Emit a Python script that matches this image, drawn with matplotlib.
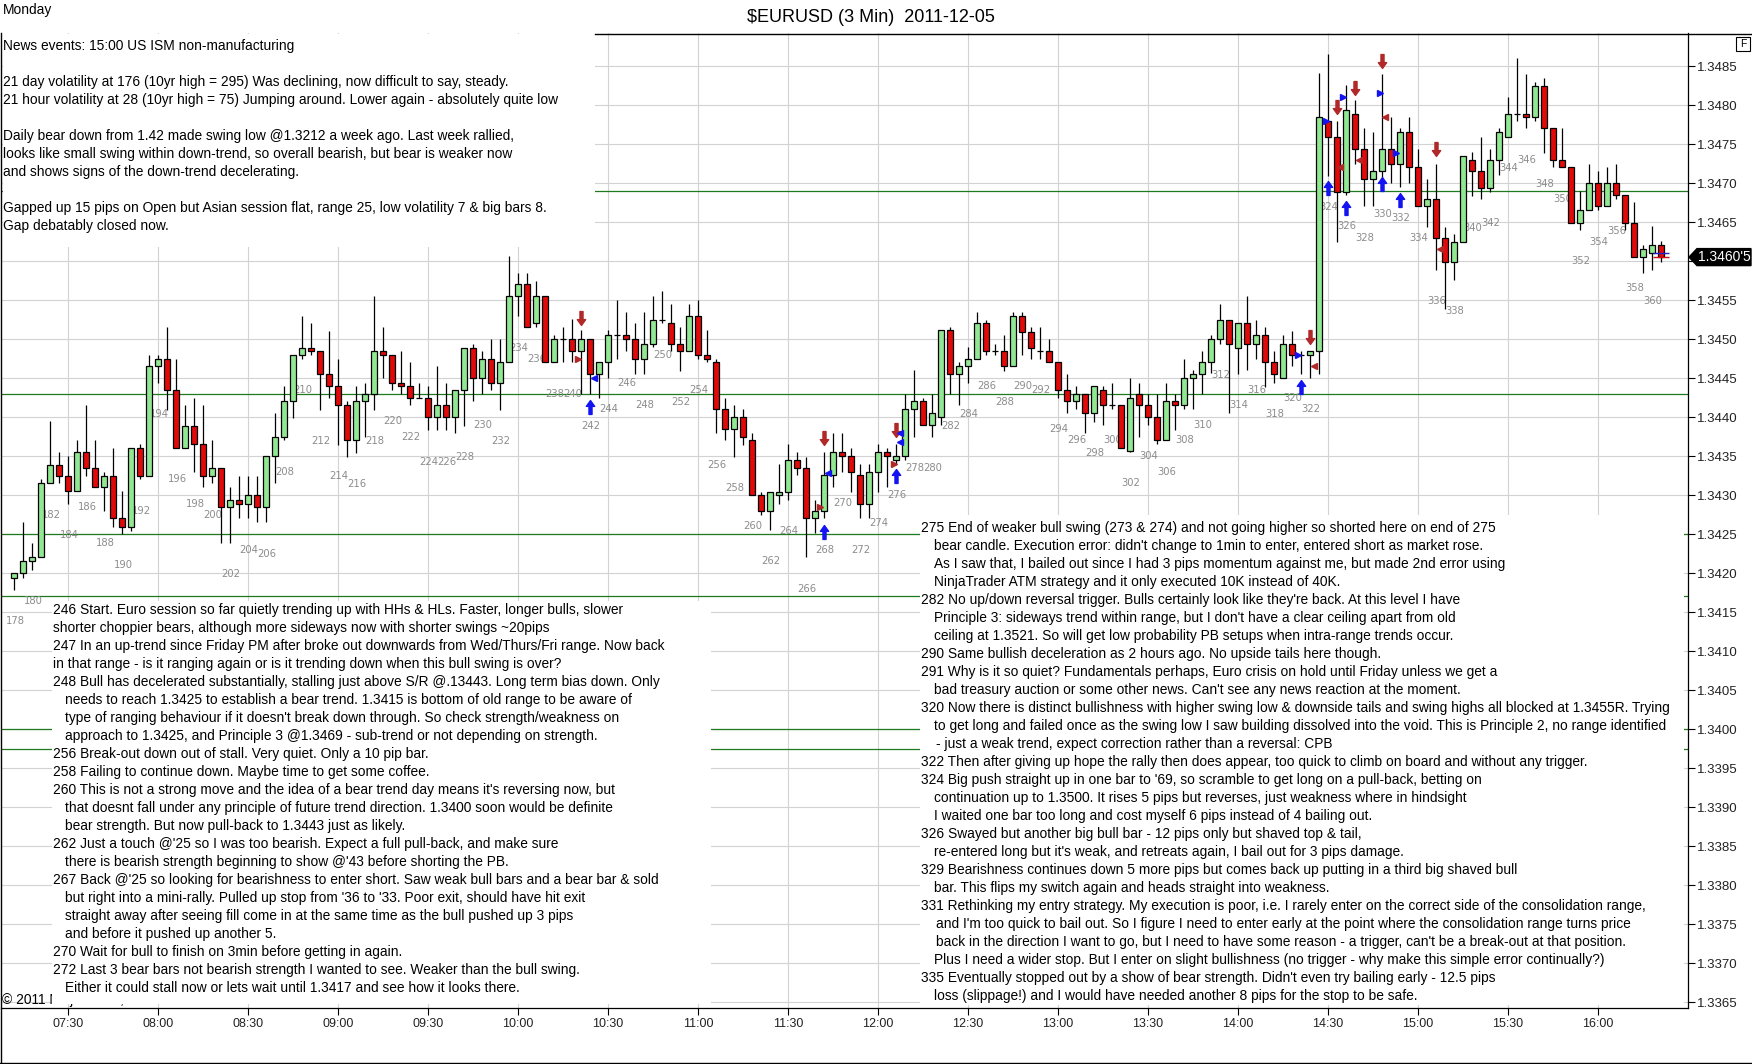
import matplotlib
matplotlib.use("Agg")
import matplotlib.pyplot as plt
import numpy as np
from matplotlib.path import Path
from matplotlib.patches import Rectangle, Polygon
from matplotlib.lines import Line2D

# ---------------- data ----------------
bar_numbers = list(range(178, 362))

opens = [
    1.34194, 1.34200, 1.34215, 1.34220, 1.34315, 1.34339, 1.34325, 1.34305, 1.34355, 1.34334,
    1.34310, 1.34325, 1.34270, 1.34259, 1.34360, 1.34325, 1.34465, 1.34475, 1.34435, 1.34360,
    1.34389, 1.34365, 1.34325, 1.34334, 1.34284, 1.34294, 1.34289, 1.34300, 1.34284, 1.34350,
    1.34375, 1.34420, 1.34479, 1.34489, 1.34484, 1.34455, 1.34440, 1.34415, 1.34370, 1.34420,
    1.34430, 1.34484, 1.34479, 1.34444, 1.34440, 1.34425, 1.34425, 1.34400, 1.34415, 1.34400,
    1.34435, 1.34489, 1.34450, 1.34475, 1.34444, 1.34470, 1.34555, 1.34570, 1.34520, 1.34555,
    1.34470, 1.34500, 1.34500, 1.34484, 1.34500, 1.34455, 1.34470, 1.34505, 1.34505, 1.34500,
    1.34475, 1.34494, 1.34525, 1.34520, 1.34494, 1.34484, 1.34529, 1.34480, 1.34470, 1.34410,
    1.34384, 1.34400, 1.34370, 1.34300, 1.34280, 1.34300, 1.34304, 1.34345, 1.34334, 1.34270,
    1.34280, 1.34326, 1.34355, 1.34350, 1.34326, 1.34289, 1.34330, 1.34355, 1.34345, 1.34350,
    1.34410, 1.34420, 1.34390, 1.34400, 1.34511, 1.34455, 1.34465, 1.34475, 1.34520, 1.34484,
    1.34484, 1.34465, 1.34529, 1.34509, 1.34484, 1.34484, 1.34470, 1.34435, 1.34420, 1.34429,
    1.34405, 1.34435, 1.34415, 1.34415, 1.34356, 1.34430, 1.34415, 1.34400, 1.34370, 1.34420,
    1.34415, 1.34450, 1.34455, 1.34470, 1.34500, 1.34525, 1.34489, 1.34520, 1.34494, 1.34505,
    1.34470, 1.34450, 1.34494, 1.34480, 1.34480, 1.34484, 1.34779, 1.34759, 1.34689, 1.34789,
    1.34744, 1.34705, 1.34715, 1.34744, 1.34725, 1.34765, 1.34720, 1.34670, 1.34679, 1.34629,
    1.34599, 1.34625, 1.34729, 1.34715, 1.34694, 1.34729, 1.34759, 1.34789, 1.34789, 1.34784,
    1.34825, 1.34770, 1.34730, 1.34720, 1.34649, 1.34665, 1.34700, 1.34670, 1.34700, 1.34685,
    1.34649, 1.34605, 1.34610, 1.34620,
]
highs = [
    1.34200, 1.34265, 1.34239, 1.34320, 1.34395, 1.34355, 1.34350, 1.34370, 1.34415, 1.34370,
    1.34330, 1.34360, 1.34305, 1.34360, 1.34365, 1.34479, 1.34479, 1.34515, 1.34475, 1.34415,
    1.34425, 1.34415, 1.34370, 1.34334, 1.34310, 1.34325, 1.34325, 1.34325, 1.34350, 1.34405,
    1.34440, 1.34479, 1.34530, 1.34521, 1.34484, 1.34510, 1.34475, 1.34420, 1.34440, 1.34444,
    1.34555, 1.34515, 1.34479, 1.34484, 1.34470, 1.34444, 1.34440, 1.34465, 1.34444, 1.34435,
    1.34489, 1.34494, 1.34484, 1.34500, 1.34500, 1.34606, 1.34584, 1.34584, 1.34575, 1.34555,
    1.34505, 1.34515, 1.34526, 1.34511, 1.34500, 1.34470, 1.34511, 1.34550, 1.34535, 1.34520,
    1.34535, 1.34555, 1.34561, 1.34545, 1.34515, 1.34545, 1.34550, 1.34511, 1.34475, 1.34425,
    1.34415, 1.34410, 1.34379, 1.34304, 1.34304, 1.34340, 1.34365, 1.34355, 1.34349, 1.34294,
    1.34355, 1.34379, 1.34379, 1.34360, 1.34340, 1.34340, 1.34365, 1.34360, 1.34365, 1.34429,
    1.34460, 1.34425, 1.34429, 1.34511, 1.34515, 1.34470, 1.34490, 1.34535, 1.34525, 1.34494,
    1.34505, 1.34535, 1.34535, 1.34515, 1.34515, 1.34500, 1.34470, 1.34455, 1.34440, 1.34429,
    1.34440, 1.34440, 1.34444, 1.34415, 1.34450, 1.34444, 1.34430, 1.34430, 1.34444, 1.34430,
    1.34475, 1.34460, 1.34485, 1.34505, 1.34545, 1.34525, 1.34520, 1.34555, 1.34525, 1.34516,
    1.34485, 1.34505, 1.34510, 1.34485, 1.34485, 1.34841, 1.34866, 1.34780, 1.34826, 1.34806,
    1.34770, 1.34766, 1.34840, 1.34785, 1.34770, 1.34785, 1.34744, 1.34705, 1.34725, 1.34644,
    1.34635, 1.34735, 1.34740, 1.34759, 1.34744, 1.34770, 1.34810, 1.34860, 1.34840, 1.34830,
    1.34834, 1.34770, 1.34770, 1.34720, 1.34690, 1.34725, 1.34716, 1.34721, 1.34725, 1.34685,
    1.34676, 1.34620, 1.34645, 1.34626,
]
lows = [
    1.34178, 1.34194, 1.34204, 1.34220, 1.34315, 1.34315, 1.34289, 1.34305, 1.34325, 1.34310,
    1.34279, 1.34259, 1.34250, 1.34254, 1.34320, 1.34325, 1.34444, 1.34409, 1.34360, 1.34360,
    1.34329, 1.34310, 1.34315, 1.34239, 1.34239, 1.34270, 1.34270, 1.34265, 1.34265, 1.34315,
    1.34370, 1.34399, 1.34475, 1.34479, 1.34409, 1.34425, 1.34364, 1.34349, 1.34354, 1.34375,
    1.34409, 1.34450, 1.34435, 1.34430, 1.34415, 1.34425, 1.34383, 1.34383, 1.34383, 1.34379,
    1.34389, 1.34420, 1.34430, 1.34435, 1.34409, 1.34470, 1.34529, 1.34515, 1.34515, 1.34470,
    1.34470, 1.34470, 1.34470, 1.34429, 1.34429, 1.34425, 1.34450, 1.34475, 1.34484, 1.34455,
    1.34455, 1.34490, 1.34520, 1.34484, 1.34459, 1.34484, 1.34475, 1.34470, 1.34379, 1.34370,
    1.34349, 1.34364, 1.34300, 1.34274, 1.34255, 1.34289, 1.34294, 1.34326, 1.34220, 1.34251,
    1.34270, 1.34310, 1.34330, 1.34304, 1.34270, 1.34270, 1.34304, 1.34310, 1.34340, 1.34345,
    1.34375, 1.34390, 1.34375, 1.34390, 1.34429, 1.34415, 1.34444, 1.34475, 1.34480, 1.34480,
    1.34459, 1.34465, 1.34480, 1.34475, 1.34475, 1.34470, 1.34425, 1.34405, 1.34410, 1.34379,
    1.34394, 1.34390, 1.34410, 1.34360, 1.34355, 1.34375, 1.34390, 1.34365, 1.34370, 1.34383,
    1.34410, 1.34410, 1.34430, 1.34456, 1.34494, 1.34405, 1.34455, 1.34460, 1.34475, 1.34439,
    1.34444, 1.34450, 1.34465, 1.34455, 1.34450, 1.34455, 1.34709, 1.34625, 1.34685, 1.34725,
    1.34670, 1.34670, 1.34700, 1.34700, 1.34695, 1.34700, 1.34670, 1.34644, 1.34589, 1.34539,
    1.34576, 1.34625, 1.34683, 1.34679, 1.34689, 1.34710, 1.34759, 1.34779, 1.34770, 1.34779,
    1.34739, 1.34720, 1.34720, 1.34649, 1.34640, 1.34665, 1.34665, 1.34670, 1.34679, 1.34640,
    1.34605, 1.34584, 1.34589, 1.34599,
]
closes = [
    1.34200, 1.34215, 1.34220, 1.34315, 1.34339, 1.34325, 1.34305, 1.34355, 1.34334, 1.34310,
    1.34325, 1.34270, 1.34259, 1.34360, 1.34325, 1.34465, 1.34475, 1.34435, 1.34360, 1.34389,
    1.34365, 1.34325, 1.34334, 1.34284, 1.34294, 1.34289, 1.34300, 1.34284, 1.34350, 1.34375,
    1.34420, 1.34479, 1.34489, 1.34484, 1.34455, 1.34440, 1.34415, 1.34370, 1.34420, 1.34430,
    1.34484, 1.34479, 1.34444, 1.34440, 1.34425, 1.34425, 1.34400, 1.34415, 1.34400, 1.34435,
    1.34489, 1.34450, 1.34475, 1.34444, 1.34470, 1.34555, 1.34570, 1.34515, 1.34555, 1.34470,
    1.34500, 1.34500, 1.34484, 1.34500, 1.34455, 1.34470, 1.34505, 1.34505, 1.34500, 1.34475,
    1.34494, 1.34525, 1.34525, 1.34494, 1.34484, 1.34529, 1.34480, 1.34475, 1.34410, 1.34384,
    1.34400, 1.34375, 1.34300, 1.34280, 1.34304, 1.34304, 1.34345, 1.34334, 1.34270, 1.34280,
    1.34326, 1.34355, 1.34350, 1.34330, 1.34289, 1.34330, 1.34355, 1.34350, 1.34350, 1.34410,
    1.34420, 1.34390, 1.34405, 1.34511, 1.34455, 1.34465, 1.34475, 1.34520, 1.34484, 1.34484,
    1.34465, 1.34529, 1.34509, 1.34489, 1.34484, 1.34470, 1.34435, 1.34420, 1.34429, 1.34405,
    1.34440, 1.34415, 1.34415, 1.34360, 1.34425, 1.34415, 1.34400, 1.34370, 1.34420, 1.34415,
    1.34450, 1.34455, 1.34470, 1.34500, 1.34525, 1.34494, 1.34520, 1.34494, 1.34505, 1.34470,
    1.34455, 1.34494, 1.34480, 1.34480, 1.34484, 1.34784, 1.34759, 1.34689, 1.34794, 1.34744,
    1.34705, 1.34715, 1.34744, 1.34725, 1.34765, 1.34720, 1.34670, 1.34679, 1.34629, 1.34599,
    1.34625, 1.34735, 1.34715, 1.34694, 1.34729, 1.34765, 1.34789, 1.34789, 1.34784, 1.34825,
    1.34770, 1.34730, 1.34720, 1.34649, 1.34665, 1.34700, 1.34670, 1.34700, 1.34685, 1.34649,
    1.34605, 1.34615, 1.34620, 1.34605,
]

time_labels = ["07:30", "08:00", "08:30", "09:00", "09:30", "10:00", "10:30", "11:00", "11:30",
               "12:00", "12:30", "13:00", "13:30", "14:00", "14:30", "15:00", "15:30", "16:00"]
bar_at_0730 = 184           # bar number closing at 07:30
price_ticks = [round(1.3365 + 0.0005 * i, 4) for i in range(25)]
level_lines = [1.3469, 1.3443, 1.3425, 1.3417, 1.3400, 1.33975]

buy_arrow_bars = [242, 268, 276, 321, 324, 326, 330, 332]
buy_arrow_prices = [1.34413, 1.34253, 1.34324, 1.34439, 1.34693, 1.34668, 1.34699, 1.34678]
sell_arrow_bars = [241, 268, 276, 322, 325, 327, 330, 336]
sell_arrow_prices = [1.34527, 1.34373, 1.34383, 1.34502, 1.34797, 1.34822, 1.34857, 1.34743]
blue_right_bars = [320.7, 323.8, 325.7, 329.8, 331.6]
blue_right_prices = [1.34480, 1.34779, 1.34810, 1.34815, 1.34739]
blue_left_bars = [242.4, 268.4, 276.4, 276.4]
blue_left_prices = [1.34450, 1.34328, 1.34380, 1.34368]
red_right_bars = [240.7, 267.6, 275.8]
red_right_prices = [1.34475, 1.34285, 1.34340]
red_left_bars = [322.4, 325.3, 327.4, 330.3, 336.4]
red_left_prices = [1.34465, 1.34721, 1.34730, 1.34784, 1.34615]
position_price = 1.34610

title = "$EURUSD (3 Min)  2011-12-05"

top_notes = [
    "News events: 15:00 US ISM non-manufacturing",
    "",
    "21 day volatility at 176 (10yr high = 295) Was declining, now difficult to say, steady.",
    "21 hour volatility at 28 (10yr high = 75) Jumping around. Lower again - absolutely quite low",
    "",
    "Daily bear down from 1.42 made swing low @1.3212 a week ago. Last week rallied,",
    "looks like small swing within down-trend, so overall bearish, but bear is weaker now",
    "and shows signs of the down-trend decelerating.",
    "",
    "Gapped up 15 pips on Open but Asian session flat, range 25, low volatility 7 & big bars 8.",
    "Gap debatably closed now.",
]

left_notes = [
    "246 Start. Euro session so far quietly trending up with HHs & HLs. Faster, longer bulls, slower",
    "shorter choppier bears, although more sideways now with shorter swings ~20pips",
    "247 In an up-trend since Friday PM after broke out downwards from Wed/Thurs/Fri range. Now back",
    "in that range - is it ranging again or is it trending down when this bull swing is over?",
    "248 Bull has decelerated substantially, stalling just above S/R @.13443. Long term bias down. Only",
    "   needs to reach 1.3425 to establish a bear trend. 1.3415 is bottom of old range to be aware of",
    "   type of ranging behaviour if it doesn't break down through. So check strength/weakness on",
    "   approach to 1.3425, and Principle 3 @1.3469 - sub-trend or not depending on strength.",
    "256 Break-out down out of stall. Very quiet. Only a 10 pip bar.",
    "258 Failing to continue down. Maybe time to get some coffee.",
    "260 This is not a strong move and the idea of a bear trend day means it's reversing now, but",
    "   that doesnt fall under any principle of future trend direction. 1.3400 soon would be definite",
    "   bear strength. But now pull-back to 1.3443 just as likely.",
    "262 Just a touch @'25 so I was too bearish. Expect a full pull-back, and make sure",
    "   there is bearish strength beginning to show @'43 before shorting the PB.",
    "267 Back @'25 so looking for bearishness to enter short. Saw weak bull bars and a bear bar & sold",
    "   but right into a mini-rally. Pulled up stop from '36 to '33. Poor exit, should have hit exit",
    "   straight away after seeing fill come in at the same time as the bull pushed up 3 pips",
    "   and before it pushed up another 5.",
    "270 Wait for bull to finish on 3min before getting in again.",
    "272 Last 3 bear bars not bearish strength I wanted to see. Weaker than the bull swing.",
    "   Either it could stall now or lets wait until 1.3417 and see how it looks there.",
]

right_notes = [
    "275 End of weaker bull swing (273 & 274) and not going higher so shorted here on end of 275",
    "   bear candle. Execution error: didn't change to 1min to enter, entered short as market rose.",
    "   As I saw that, I bailed out since I had 3 pips momentum against me, but made 2nd error using",
    "   NinjaTrader ATM strategy and it only executed 10K instead of 40K.",
    "282 No up/down reversal trigger. Bulls certainly look like they're back. At this level I have",
    "   Principle 3: sideways trend within range, but I don't have a clear ceiling apart from old",
    "   ceiling at 1.3521. So will get low probability PB setups when intra-range trends occur.",
    "290 Same bullish deceleration as 2 hours ago. No upside tails here though.",
    "291 Why is it so quiet? Fundamentals perhaps, Euro crisis on hold until Friday unless we get a",
    "   bad treasury auction or some other news. Can't see any news reaction at the moment.",
    "320 Now there is distinct bullishness with higher swing low & downside tails and swing highs all blocked at 1.3455R. Trying",
    "   to get long and failed once as the swing low I saw building dissolved into the void. This is Principle 2, no range identified",
    "    - just a weak trend, expect correction rather than a reversal: CPB",
    "322 Then after giving up hope the rally then does appear, too quick to climb on board and without any trigger.",
    "324 Big push straight up in one bar to '69, so scramble to get long on a pull-back, betting on",
    "   continuation up to 1.3500. It rises 5 pips but reverses, just weakness where in hindsight",
    "   I waited one bar too long and cost myself 6 pips instead of 4 bailing out.",
    "326 Swayed but another big bull bar - 12 pips only but shaved top & tail,",
    "   re-entered long but it's weak, and retreats again, I bail out for 3 pips damage.",
    "329 Bearishness continues down 5 more pips but comes back up putting in a third big shaved bull",
    "   bar. This flips my switch again and heads straight into weakness.",
    "331 Rethinking my entry strategy. My execution is poor, i.e. I rarely enter on the correct side of the consolidation range,",
    "    and I'm too quick to bail out. So I figure I need to enter early at the point where the consolidation range turns price",
    "    back in the direction I want to go, but I need to have some reason - a trigger, can't be a break-out at that position.",
    "   Plus I need a wider stop. But I enter on slight bullishness (no trigger - why make this simple error continually?)",
    "335 Eventually stopped out by a show of bear strength. Didn't even try bailing early - 12.5 pips",
    "   loss (slippage!) and I would have needed another 8 pips for the stop to be safe.",
]

# ---------------- figure ----------------
W, H = 1752, 1064
fig = plt.figure(figsize=(W / 100, H / 100), dpi=100)
fig.patch.set_facecolor("white")


def fx(x):
    return x / W


def fy(y):
    return 1 - y / H


TXT = "Liberation Sans"
NOTE_FS = 9.9
ax = fig.add_axes([fx(1), fy(1008), (1688 - 1) / W, (1008 - 33) / H])
ax.set_facecolor("white")
ax.set_xlim(176.556, 364.0)
ax.set_ylim(1.3364231, 1.3489231)

# ticks / grid
tick_bars = [bar_at_0730 + 10 * i for i in range(len(time_labels))]
ax.set_xticks(tick_bars)
ax.set_xticklabels(time_labels, fontsize=9, family=TXT, color="#222222")
ax.set_yticks(price_ticks)
ylabels = ["" if abs(p - closes[-1]) < 0.0002 else f"{p:.4f}" for p in price_ticks]
ax.set_yticklabels(ylabels, fontsize=9.5, family=TXT, color="#222222")
ax.yaxis.tick_right()
ax.tick_params(axis="x", direction="out", length=5, width=0.8, pad=2)
ax.tick_params(axis="y", direction="out", length=5, width=0.8, pad=1.5)
ax.grid(True, color="#d2d2d2", linewidth=0.8)
ax.set_axisbelow(True)
for s in ["top", "left"]:
    ax.spines[s].set_visible(False)
for s in ["bottom", "right"]:
    ax.spines[s].set_linewidth(0.9)

# S/R levels
for lvl in level_lines:
    ax.axhline(lvl, color="#1f7a1f", linewidth=0.9, zorder=1)

# candles
bars = np.array(bar_numbers)
o = np.array(opens)
h = np.array(highs)
l = np.array(lows)
c = np.array(closes)
body_bottom = np.minimum(o, c)
body_height = np.abs(c - o)
colors = np.where(c < o, "#e00a0a", "#92e892")
ax.vlines(bars, l, h, color="black", linewidth=0.9, zorder=3)
ax.bar(bars, body_height, bottom=body_bottom, width=0.64, color=colors,
       edgecolor="black", linewidth=0.9, zorder=3.5)

# bar numbers (every second bar, below the low)
for n, lo in zip(bar_numbers, lows):
    if n % 2 == 0:
        ax.annotate(str(n), xy=(n, lo), xytext=(0.8, -22.5), textcoords="offset points",
                    ha="center", va="center", fontsize=7.2, family="DejaVu Sans",
                    color="#8c8c8c", zorder=2)

# trade markers
uv = [(-0.30, 0.08), (0, 0.5), (0.30, 0.08), (0.11, 0.08), (0.11, -0.5), (-0.11, -0.5),
      (-0.11, 0.08), (-0.30, 0.08)]
codes = [Path.MOVETO] + [Path.LINETO] * 6 + [Path.CLOSEPOLY]
up_arrow = Path(uv, codes)
down_arrow = Path([(x, -y) for x, y in uv], codes)
ax.plot(buy_arrow_bars, buy_arrow_prices, ls="none", marker=up_arrow, ms=10,
        color="#1414f0", zorder=4)
ax.plot(sell_arrow_bars, sell_arrow_prices, ls="none", marker=down_arrow, ms=10,
        color="#b02828", zorder=4)
ax.plot(blue_right_bars, blue_right_prices, ls="none", marker=">", ms=4.5,
        color="#1414f0", zorder=4)
ax.plot(blue_left_bars, blue_left_prices, ls="none", marker="<", ms=4.5,
        color="#1414f0", zorder=4)
ax.plot(red_right_bars, red_right_prices, ls="none", marker=">", ms=4.5,
        color="#b02828", zorder=4)
ax.plot(red_left_bars, red_left_prices, ls="none", marker="<", ms=4.5,
        color="#b02828", zorder=4)
ax.hlines([position_price], bar_numbers[-1] - 0.9, bar_numbers[-1] + 0.9, color="#2020d0",
          linewidth=1.0, zorder=4)
ax.hlines([closes[-1]], bar_numbers[-1] - 0.9, bar_numbers[-1] + 0.9, color="#d01010",
          linewidth=1.0, zorder=4)

# ---------------- overlays (figure level) ----------------
def box(x0, y0, x1, y1):
    fig.add_artist(Rectangle((fx(x0), fy(y1)), (x1 - x0) / W, (y1 - y0) / H,
                             transform=fig.transFigure, facecolor="white",
                             edgecolor="none", zorder=5))


box(2.5, 34, 595, 247)
box(52, 601, 711, 1004)
box(920, 515, 1684, 1005)


def line(x0, y0, x1, y1, lw=1.0):
    fig.add_artist(Line2D([fx(x0), fx(x1)], [fy(y0), fy(y1)], transform=fig.transFigure,
                          color="black", linewidth=lw, zorder=7))


line(595, 33.5, W, 33.5)
line(1.2, 33, 1.2, 1064)
line(0, 1062.8, W, 1062.8)

fig.text(fx(871), fy(17), title, ha="center", va="center", fontsize=13, family=TXT, zorder=8)
fig.text(fx(3), fy(10), "Monday", ha="left", va="center", fontsize=NOTE_FS, family=TXT, zorder=8)
fig.text(fx(2), fy(1000), "\u00a9 2011 NinjaTrader, LLC", ha="left", va="center",
         fontsize=NOTE_FS, family=TXT, zorder=4)

# F box
fig.add_artist(Rectangle((fx(1736), fy(51)), 14 / W, 14 / H, transform=fig.transFigure,
                         facecolor="white", edgecolor="black", linewidth=0.8, zorder=8))
fig.text(fx(1743), fy(44), "F", ha="center", va="center", fontsize=7.5, family=TXT, zorder=9)


def notes(lines_, x0, y0, step=18.0):
    for i, s in enumerate(lines_):
        if not s:
            continue
        n_sp = len(s) - len(s.lstrip(" "))
        ind = {0: 0.0, 3: 12.5, 4: 14.5}.get(n_sp, 3.6 * n_sp)
        fig.text(fx(x0 + ind), fy(y0 + i * step), s.strip(), ha="left", va="center",
                 fontsize=NOTE_FS, family=TXT, color="black", zorder=8)


notes(top_notes, 3, 45.7)
notes(left_notes, 52.8, 610)
notes(right_notes, 921.4, 527.7)

# last price flag
_, yd = ax.transData.transform((bar_numbers[-1], closes[-1]))
ypx = H - yd
flag = Polygon([(fx(1689), fy(ypx)), (fx(1697), fy(ypx - 8.5)), (fx(1751), fy(ypx - 8.5)),
                (fx(1751), fy(ypx + 8.5)), (fx(1697), fy(ypx + 8.5))],
               closed=True, transform=fig.transFigure, facecolor="black",
               edgecolor="black", zorder=8)
fig.add_artist(flag)
ps = f"{closes[-1]:.5f}"
fig.text(fx(1724), fy(ypx), ps[:-1] + "'" + ps[-1], ha="center", va="center",
         fontsize=10, family=TXT, color="white", zorder=9)

fig.savefig("out.png", dpi=100)
